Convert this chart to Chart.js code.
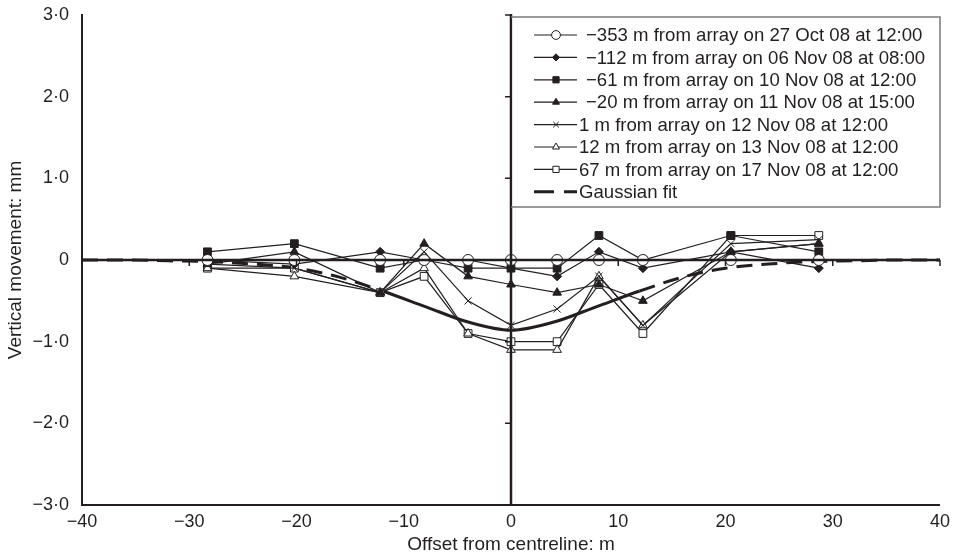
<!DOCTYPE html>
<html>
<head>
<meta charset="utf-8">
<script src="https://cdn.jsdelivr.net/npm/chart.js@4.4.0/dist/chart.umd.min.js"></script>
<style>
  html, body { margin: 0; padding: 0; background: #ffffff; }
  #wrap { width: 956px; height: 559px; }
</style>
</head>
<body>
<div id="wrap"><canvas id="chartMouvement" width="956" height="559"></canvas></div>
<script>
// offsets of the measuring points (m)
const offsets = [-28.3, -20.2, -12.2, -8.1, -4.0, 0, 4.3, 8.2, 12.3, 20.5, 28.7];

// vertical movement (mm) for each reading
const m353 = [0, 0, 0, 0, 0, 0, 0, 0, 0, 0, 0];
const m112 = [0, -0.05, 0.1, 0, 0, -0.1, -0.2, 0.1, -0.1, 0.1, -0.1];
const m61 = [0.1, 0.2, -0.1, 0, -0.1, -0.1, -0.1, 0.3, 0, 0.3, 0.1];
const m20 = [-0.05, 0.1, -0.4, 0.2, -0.2, -0.3, -0.4, -0.3, -0.5, 0.1, 0.2];
const p1 = [-0.05, -0.1, -0.4, 0.1, -0.5, -0.8, -0.6, -0.2, -0.8, 0.2, 0.25];
const p12 = [-0.1, -0.2, -0.4, -0.1, -0.9, -1.1, -1.1, -0.2, -0.8, 0.1, 0.2];
const p67 = [-0.1, -0.1, -0.4, -0.2, -0.9, -1.0, -1.0, -0.3, -0.9, 0.3, 0.3];

// gaussian fit
const fitOffsets = [-40, -36, -32, -28, -24, -20, -16, -12, -8, -4, 0, 4, 8, 12, 16, 20, 24, 28, 32, 36, 40];
const fitValues = [0, 0, -0.01, -0.02, -0.05, -0.1, -0.21, -0.38, -0.57, -0.76, -0.86, -0.76, -0.57, -0.38, -0.21, -0.1, -0.05, -0.02, -0.01, 0, 0];

const seriesLabels = [
  "−353 m from array on 27 Oct 08 at 12:00",
  "−112 m from array on 06 Nov 08 at 08:00",
  "−61 m from array on 10 Nov 08 at 12:00",
  "−20 m from array on 11 Nov 08 at 15:00",
  "1 m from array on 12 Nov 08 at 12:00",
  "12 m from array on 13 Nov 08 at 12:00",
  "67 m from array on 17 Nov 08 at 12:00",
  "Gaussian fit",
];

const xTickLabels = ["−40", "−30", "−20", "−10", "0", "10", "20", "30", "40"];
const yTickLabels = ["−3·0", "−2·0", "−1·0", "0", "1·0", "2·0", "3·0"];

const INK = "#231f20";
const FONT = "'Liberation Sans', Arial, sans-serif";

function points(xs, ys) {
  return xs.map((x, i) => ({ x: x, y: ys[i] }));
}

function serie(label, values, style, radius, filled) {
  return {
    label: label,
    data: points(offsets, values),
    borderColor: INK,
    borderWidth: 1.2,
    pointStyle: style,
    pointRadius: radius,
    pointHoverRadius: radius,
    pointBorderWidth: 1,
    pointBorderColor: INK,
    pointBackgroundColor: filled ? INK : "#ffffff",
    tension: 0,
    fill: false,
  };
}

// axes passing through zero, with their small ticks
const zeroAxes = {
  id: "zeroAxes",
  afterDatasetsDraw(chart) {
    const { ctx, chartArea: a, scales } = chart;
    const y0 = scales.y.getPixelForValue(0);
    const x0 = scales.x.getPixelForValue(0);
    ctx.save();
    ctx.strokeStyle = INK;
    ctx.lineWidth = 2.5;
    ctx.beginPath();
    ctx.moveTo(a.left, y0);
    ctx.lineTo(a.right, y0);
    ctx.moveTo(x0, a.top - 1);
    ctx.lineTo(x0, a.bottom);
    ctx.stroke();
    ctx.lineWidth = 1.5;
    ctx.beginPath();
    scales.x.ticks.forEach((t) => {
      const px = scales.x.getPixelForValue(t.value);
      ctx.moveTo(px, y0);
      ctx.lineTo(px, y0 + 6);
    });
    scales.y.ticks.forEach((t) => {
      const py = scales.y.getPixelForValue(t.value);
      ctx.moveTo(x0, py);
      ctx.lineTo(x0 - 6, py);
    });
    ctx.stroke();
    ctx.restore();
  },
};

// boxed legend inside the plot, top right
const boxLegend = {
  id: "boxLegend",
  afterDraw(chart) {
    const { ctx, scales } = chart;
    const left = scales.x.getPixelForValue(0);
    const top = 17, right = 940, bottom = 207;
    ctx.save();
    ctx.fillStyle = "#ffffff";
    ctx.fillRect(left + 1.5, top, right - left - 1.5, bottom - top);
    ctx.strokeStyle = "#7a7a7a";
    ctx.lineWidth = 1.5;
    ctx.beginPath();
    ctx.moveTo(left, top);
    ctx.lineTo(right, top);
    ctx.lineTo(right, bottom);
    ctx.lineTo(left, bottom);
    ctx.stroke();

    ctx.font = "18.6px " + FONT;
    ctx.textBaseline = "middle";
    ctx.textAlign = "left";
    chart.data.datasets.forEach((ds, i) => {
      const y = 35 + i * 22.4;
      ctx.strokeStyle = INK;
      ctx.lineWidth = ds.borderWidth;
      ctx.setLineDash(ds.legendDash || []);
      ctx.beginPath();
      ctx.moveTo(534, y);
      ctx.lineTo(577, y);
      ctx.stroke();
      ctx.setLineDash([]);
      if (ds.pointRadius > 0) {
        ctx.fillStyle = ds.pointBackgroundColor;
        ctx.strokeStyle = INK;
        ctx.lineWidth = 1;
        Chart.helpers.drawPoint(ctx, {
          pointStyle: ds.pointStyle,
          radius: ds.pointRadius * 0.8,
          borderWidth: 1,
          rotation: 0,
        }, 556, y);
      }
      ctx.fillStyle = INK;
      const tx = ds.label.startsWith("−") ? 586 : 579;
      ctx.fillText(ds.label, tx, y + 1);
    });
    ctx.restore();
  },
};

const datasets = [
  serie(seriesLabels[0], m353, "circle", 5.5, false),
  serie(seriesLabels[1], m112, "rectRot", 4.5, true),
  serie(seriesLabels[2], m61, "rect", 5.5, true),
  serie(seriesLabels[3], m20, "triangle", 5, true),
  serie(seriesLabels[4], p1, "crossRot", 5, false),
  serie(seriesLabels[5], p12, "triangle", 5, false),
  serie(seriesLabels[6], p67, "rect", 5.5, false),
  {
    label: seriesLabels[7],
    data: points(fitOffsets, fitValues),
    borderColor: INK,
    borderWidth: 3,
    pointRadius: 0,
    pointHoverRadius: 0,
    tension: 0.4,
    cubicInterpolationMode: "monotone",
    fill: false,
    legendDash: [20, 10],
    segment: {
      borderDash: (c) => (c.p1.parsed.x <= -12 || c.p0.parsed.x >= 12 ? [16, 9] : undefined),
    },
  },
];

new Chart(document.getElementById("chartMouvement"), {
  type: "line",
  data: { datasets: datasets },
  options: {
    responsive: false,
    animation: false,
    events: [],
    layout: { padding: { top: 15, right: 14, left: 0, bottom: 0 } },
    plugins: {
      legend: { display: false },
      tooltip: { enabled: false },
    },
    scales: {
      x: {
        type: "linear",
        min: -40,
        max: 40,
        afterFit: (s) => { s.height = 54; },
        grid: { display: false, drawTicks: false },
        border: { display: true, color: INK, width: 2 },
        ticks: {
          stepSize: 10,
          padding: 6,
          color: INK,
          font: { family: FONT, size: 18 },
          callback: (v) => xTickLabels[Math.round(v / 10) + 4],
        },
        title: {
          display: true,
          text: "Offset from centreline: m",
          color: INK,
          font: { family: FONT, size: 19 },
          padding: { top: 0, bottom: 3 },
        },
      },
      y: {
        min: -3,
        max: 3,
        afterFit: (s) => {
          s.width = 82;
          s.paddingTop = 0;
          s.paddingBottom = 0;
        },
        grid: { display: false, drawTicks: false },
        border: { display: true, color: INK, width: 2 },
        ticks: {
          stepSize: 1,
          padding: 13,
          color: INK,
          font: { family: FONT, size: 18 },
          callback: (v) => yTickLabels[Math.round(v) + 3],
        },
        title: {
          display: true,
          text: "Vertical movement: mm",
          color: INK,
          font: { family: FONT, size: 19 },
          padding: { top: 4, bottom: 0 },
        },
      },
    },
  },
  plugins: [zeroAxes, boxLegend],
});
</script>
</body>
</html>
